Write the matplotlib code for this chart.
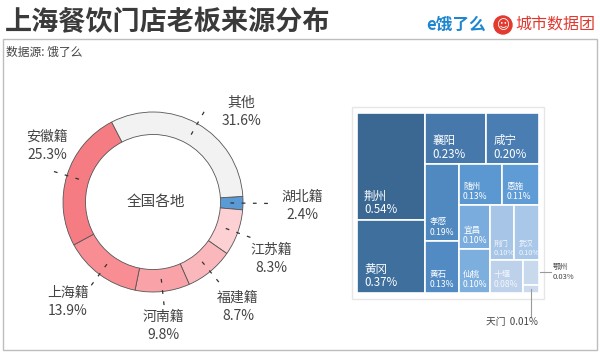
import matplotlib
matplotlib.use("Agg")
import matplotlib.pyplot as plt
from matplotlib.patches import Rectangle, Circle
import numpy as np

plt.rcParams['font.family'] = ['Noto Sans CJK SC', 'DejaVu Sans']

# ---------------- data ----------------
title = "上海餐饮门店老板来源分布"
source = "数据源: 饿了么"
center_label = "全国各地"

donut_names = ["湖北籍", "江苏籍", "福建籍", "河南籍", "上海籍", "安徽籍", "其他"]
donut_values = [2.4, 8.3, 8.7, 9.8, 13.9, 25.3, 31.6]
donut_colors = ["#5b9bd5", "#fdd0d3", "#fbb8bc", "#f9a3a8", "#f88e94", "#f67c84", "#f2f2f2"]

tm_names = ["荆州", "黄冈", "襄阳", "咸宁", "孝感", "黄石", "随州", "恩施",
            "宜昌", "仙桃", "荆门", "武汉", "十堰", "鄂州", "天门"]
tm_values = [0.54, 0.37, 0.23, 0.20, 0.19, 0.13, 0.13, 0.11,
             0.10, 0.10, 0.10, 0.10, 0.08, 0.03, 0.01]
tm_colors = ["#3a6893", "#3e6f9d", "#4678ab", "#4a7eb2", "#5088c0", "#528bc3",
             "#5b98d1", "#5f9cd6", "#7aaddd", "#7dafde", "#a6c5e7", "#a9c7e8",
             "#bdd1ea", "#c8d8ed", "#cbdaee"]
tm_groups = [2, 2, 2, 2, 2, 2, 1, 1, 1]   # items per slice, alternating direction

W, H = 600, 355
fig = plt.figure(figsize=(6, 3.55), dpi=100)
fig.patch.set_facecolor("white")

# background axes in pixel coordinates (y down)
bg = fig.add_axes([0, 0, 1, 1])
bg.set_xlim(0, W)
bg.set_ylim(H, 0)
bg.axis("off")
bg.add_patch(Rectangle((3, 39), 594, 311, fill=False, edgecolor="#bdbdbd", lw=1.0))
bg.text(5, 22, title, fontsize=19.5, fontweight="bold", color="#3a3a3a", va="center", ha="left")
bg.text(6, 52, source, fontsize=8.5, color="#444444", va="center", ha="left")
bg.text(426, 25, "e饿了么", fontsize=12, fontweight="bold", color="#1d86cf", va="center", ha="left")
bg.add_patch(Circle((503, 25), 9, color="#e23a2e"))
bg.text(503, 25.5, "☺", fontsize=9, color="white", va="center", ha="center",
        family=["DejaVu Sans"])
bg.text(515, 25, "城市数据团", fontsize=11.5, color="#e03a30", va="center", ha="left")

# ---------------- donut ----------------
cx, cy, R = 153, 202, 90
half = 125
ax1 = fig.add_axes([(cx - half) / W, (H - cy - half) / H, 2 * half / W, 2 * half / H])
wedges, _ = ax1.pie(donut_values, colors=donut_colors, startangle=3.6, counterclock=False,
                    radius=1.0, wedgeprops=dict(width=0.25, edgecolor="#555555", linewidth=0.6))
ax1.set_xlim(-half / R, half / R)
ax1.set_ylim(-half / R, half / R)
ax1.set_aspect("equal")
ax1.axis("off")

ax1.text(0.03, 0.0, center_label, fontsize=10.5, color="#444444", ha="center", va="center")

# label positions in pixels (x, y of name line)
label_px = {"其他": (241, 103), "安徽籍": (47, 137), "湖北籍": (302, 197),
            "江苏籍": (271, 250), "福建籍": (238, 298), "河南籍": (163, 317),
            "上海籍": (68, 293)}
leader_r = {"湖北籍": 1.32, "江苏籍": 1.22, "福建籍": 1.22, "河南籍": 1.22,
            "上海籍": 1.22, "安徽籍": 1.22, "其他": 1.2}
start = 3.6
for name, val in zip(donut_names, donut_values):
    mid = start - val * 3.6 / 2
    start -= val * 3.6
    a = np.deg2rad(mid)
    r0, r1 = 0.86, leader_r[name]
    ax1.plot([r0 * np.cos(a), r1 * np.cos(a)], [r0 * np.sin(a), r1 * np.sin(a)],
             color="#333333", lw=0.9, linestyle=(0, (3, 6)), clip_on=False)
    px, py = label_px[name]
    x = (px - cx) / R
    ax1.text(x, (cy - py) / R, name, fontsize=10, color="#444444", ha="center", va="center")
    ax1.text(x, (cy - py - 18) / R, f"{val}%", fontsize=10, color="#444444",
             ha="center", va="center")

# ---------------- treemap ----------------
bg.add_patch(Rectangle((352, 107), 192, 192, fill=False, edgecolor="#e6e6e6", lw=1.0))
tx0, ty0, tx1, ty1 = 357, 113, 539, 293
ax2 = fig.add_axes([tx0 / W, (H - ty1) / H, (tx1 - tx0) / W, (ty1 - ty0) / H])
ax2.set_xlim(0, tx1 - tx0)
ax2.set_ylim(ty1 - ty0, 0)
ax2.axis("off")

rects = []
x, y, w, h = 0.0, 0.0, float(tx1 - tx0), float(ty1 - ty0)
remaining = sum(tm_values)
i = 0
vertical = True
for g in tm_groups:
    vals = tm_values[i:i + g]
    gs = sum(vals)
    frac = gs / remaining
    if vertical:
        cw = w * frac
        yy = y
        for v in vals:
            hh = h * v / gs
            rects.append((x, yy, cw, hh))
            yy += hh
        x += cw
        w -= cw
    else:
        ch = h * frac
        xx = x
        for v in vals:
            ww = w * v / gs
            rects.append((xx, y, ww, ch))
            xx += ww
        y += ch
        h -= ch
    remaining -= gs
    i += g
    vertical = not vertical

for k, ((rx, ry, rw, rh), name, val, col) in enumerate(zip(rects, tm_names, tm_values, tm_colors)):
    ax2.add_patch(Rectangle((rx, ry), rw, rh, facecolor=col, edgecolor="white", lw=1.2))
    m = min(rw, rh)
    if name in ("鄂州", "天门"):
        continue
    if m > 45:
        fs, dy = 8.3, 13.5
    elif m > 30:
        fs, dy = 6.2, 10.5
    else:
        fs, dy = 5.3, 9
    tc = "white" if k < 10 else "#f4f7fb"
    pad = 7 if m > 45 else 4
    ax2.text(rx + pad, ry + rh - dy * 0.6 - 2, f"{val:.2f}%", fontsize=fs, color=tc,
             ha="left", va="center")
    ax2.text(rx + pad, ry + rh - dy * 1.6 - 2, name, fontsize=fs, color=tc,
             ha="left", va="center")

# outside labels
ex, ey, ew, eh = rects[13]
ax2.plot([ex + ew + 1, ex + ew + 12], [ey + eh / 2, ey + eh / 2], color="#999999", lw=0.8, clip_on=False)
ax2.text(ex + ew + 14, ey + eh / 2 - 5, "鄂州", fontsize=5.5, color="#444444", ha="left", va="center")
ax2.text(ex + ew + 14, ey + eh / 2 + 5, "0.03%", fontsize=5.5, color="#444444", ha="left", va="center")
tx, ty, tw, th = rects[14]
ax2.plot([tx + tw / 2, tx + tw / 2], [ty + th / 2, ty + th + 23], color="#999999", lw=0.8, clip_on=False)
ax2.text(tx + tw / 2 + 7, ty + th + 29, "天门  0.01%", fontsize=7, color="#444444",
         ha="right", va="center")

fig.savefig("out.png", dpi=100, facecolor="white")
